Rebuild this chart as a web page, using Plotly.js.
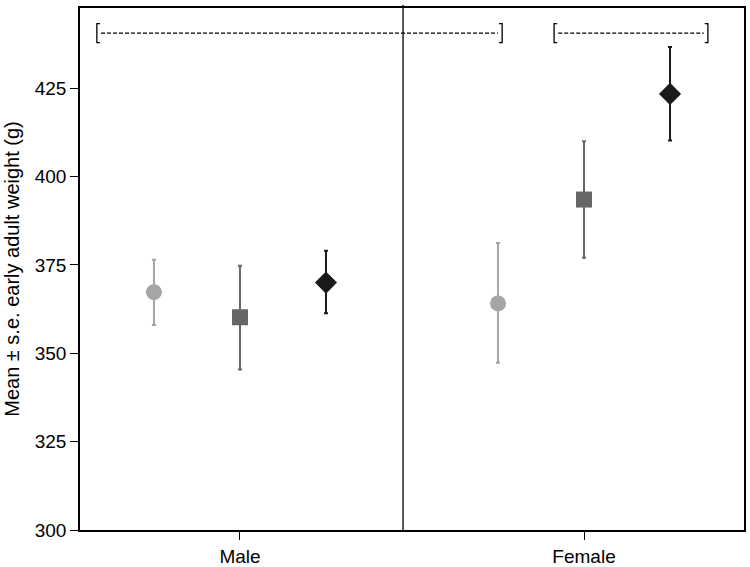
<!DOCTYPE html>
<html>
<head>
<meta charset="utf-8">
<script src="https://cdn.plot.ly/plotly-3.0.1.min.js"></script>
<style>
  html, body { margin: 0; padding: 0; background: #fff; }
  #chart { width: 750px; height: 567px; }
</style>
</head>
<body>
<div id="chart"></div>
<script>
  // ================= Data =================
  const sexes = ["Male", "Female"];
  const groupNames = ["Group 1", "Group 2", "Group 3"];
  const means    = [[367.3, 364.1], [360.2, 393.5], [370.0, 423.4]];
  const upperSE  = [[376.5, 381.2], [374.8, 410.0], [379.0, 436.7]];
  const lowerSE  = [[358.0, 347.3], [345.4, 377.0], [361.3, 410.2]];

  // ================= Styles =================
  const symbols = ["circle", "square", "diamond"];
  const colors = ["#a5a5a5", "#666666", "#1a1a1a"];
  const sizes = [16, 16, 17];
  const offsets = [-0.25, 0, 0.25];

  const traces = groupNames.map((name, g) => ({
    type: "scatter",
    mode: "markers",
    name: name,
    x: sexes.map((s, i) => i + 1 + offsets[g]),
    y: means[g],
    error_y: {
      type: "data",
      symmetric: false,
      array: means[g].map((m, i) => upperSE[g][i] - m),
      arrayminus: means[g].map((m, i) => m - lowerSE[g][i]),
      color: colors[g],
      thickness: 2,
      width: 2
    },
    marker: { symbol: symbols[g], color: colors[g], size: sizes[g], line: { width: 0 } },
    hovertemplate: "%{y:.1f}<extra></extra>"
  }));

  // bracket markers above the groups
  const bracketY = 440.6;
  const brackets = [[0.584, 1.762], [1.913, 2.360]];
  const halfH = 2.7;   // y units (about 10 px)
  const serif = 0.009; // x units (about 3 px)

  const shapes = [
    { type: "line", xref: "x", yref: "paper", x0: 1.474, x1: 1.474, y0: 0, y1: 1.006,
      line: { color: "#000", width: 1.3 } }
  ];
  brackets.forEach(([a, b]) => {
    shapes.push({ type: "line", xref: "x", yref: "y", x0: a + 0.012, x1: b - 0.012,
      y0: bracketY, y1: bracketY, line: { color: "#000", width: 1.2, dash: "4px,2px" } });
    shapes.push({ type: "path", xref: "x", yref: "y",
      path: `M ${a + serif} ${bracketY + halfH} L ${a} ${bracketY + halfH} L ${a} ${bracketY - halfH} L ${a + serif} ${bracketY - halfH}`,
      line: { color: "#000", width: 1.3 } });
    shapes.push({ type: "path", xref: "x", yref: "y",
      path: `M ${b - serif} ${bracketY + halfH} L ${b} ${bracketY + halfH} L ${b} ${bracketY - halfH} L ${b - serif} ${bracketY - halfH}`,
      line: { color: "#000", width: 1.3 } });
  });

  const layout = {
    width: 750,
    height: 567,
    margin: { l: 80, r: 6, t: 8, b: 37 },
    paper_bgcolor: "#fff",
    plot_bgcolor: "#fff",
    showlegend: false,
    font: { family: "Liberation Sans, Arial, sans-serif", size: 19, color: "#000" },
    xaxis: {
      range: [0.535, 2.465],
      tickvals: sexes.map((s, i) => i + 1),
      ticktext: sexes,
      ticks: "outside", ticklen: 8, tickwidth: 1.2, tickcolor: "#000",
      showline: true, linecolor: "#000", linewidth: 1.5, mirror: true,
      showgrid: false, zeroline: false
    },
    yaxis: {
      range: [300, 447.7],
      tickvals: [300, 325, 350, 375, 400, 425],
      ticks: "outside", ticklen: 8, tickwidth: 1.2, tickcolor: "#000",
      showline: true, linecolor: "#000", linewidth: 1.5, mirror: true,
      showgrid: false, zeroline: false,
      title: { text: "Mean ± s.e. early adult weight (g)", font: { size: 20 }, standoff: 10 }
    },
    shapes: shapes
  };

  Plotly.newPlot("chart", traces, layout, { displayModeBar: false });
</script>
</body>
</html>
